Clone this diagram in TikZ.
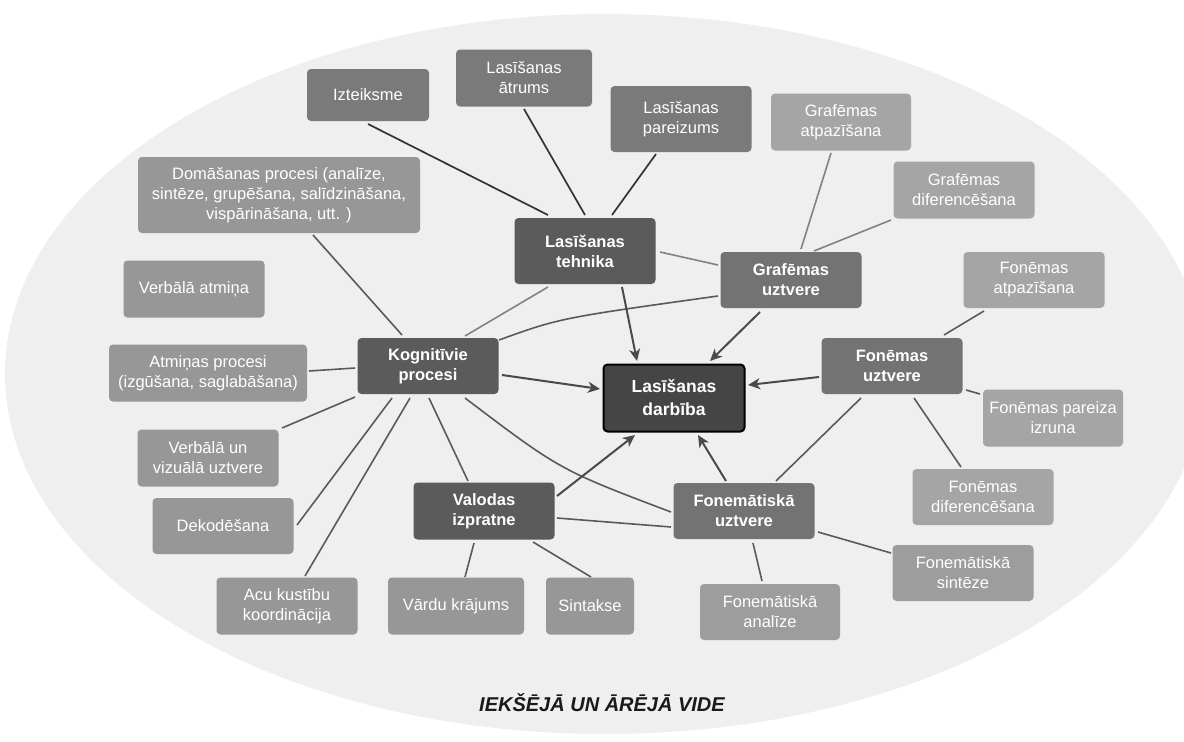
\documentclass[tikz,border=0pt]{standalone}
\usepackage{fontspec}
\setmainfont{Liberation Sans}
\usetikzlibrary{arrows.meta,calc}
\definecolor{bgell}{HTML}{EFEFEF}
\definecolor{cdar}{HTML}{454545}
\definecolor{cmain}{HTML}{5B5B5B}
\definecolor{csub}{HTML}{737373}
\definecolor{ctop}{HTML}{7A7A7A}
\definecolor{cleaf}{HTML}{979797}
\definecolor{clight}{HTML}{A5A5A5}
\definecolor{cfm}{HTML}{9D9D9D}
\definecolor{ldark}{HTML}{333333}
\definecolor{lmid}{HTML}{5A5A5A}
\definecolor{llight}{HTML}{828282}
\definecolor{larrow}{HTML}{4A4A4A}
\definecolor{ttl}{HTML}{1A1A1A}
\begin{document}
\begin{tikzpicture}[x=1pt,y=-1pt,
  nd/.style={rounded corners=4pt, inner sep=0pt, outer sep=1.5pt, align=center,
    text=white, font=\fontsize{16.5}{20}\selectfont,
    minimum width=141pt, minimum height=57pt},
  ndb/.style={nd, font=\fontsize{16.5}{20}\selectfont\bfseries},
  lkdark/.style={draw=ldark, line width=1.7pt},
  lkmid/.style={draw=lmid, line width=1.6pt},
  lklight/.style={draw=llight, line width=1.6pt},
  arr/.style={draw=larrow, line width=2pt, -{Stealth[length=12pt,width=11pt,inset=3.5pt]}}
]
\useasboundingbox (0,0) rectangle (1184,742);
\begin{scope}
  \clip (0,0) rectangle (1184,742);
  \fill[bgell] (605,374) ellipse [x radius=600, y radius=360];
\end{scope}

% top nodes
\node[nd, fill=ctop, minimum width=122pt, minimum height=52pt] (izt) at (368,95) {Izteiksme};
\node[nd, fill=ctop, minimum width=136pt] (atr) at (524,78) {Lasīšanas\\ātrums};
\node[nd, fill=ctop, minimum height=66pt] (par) at (681,119) {Lasīšanas\\pareizums};
\node[nd, fill=clight, minimum width=140pt] (gatp) at (841,122) {Grafēmas\\atpazīšana};
\node[nd, fill=clight] (gdif) at (964,190) {Grafēmas\\diferencēšana};
\node[nd, fill=clight, minimum height=56pt] (fatp) at (1034,280) {Fonēmas\\atpazīšana};
\node[ndb, fill=csub, minimum height=56pt] (guz) at (791,280) {Grafēmas\\uztvere};
\node[ndb, fill=cmain, minimum height=66pt] (teh) at (585,251) {Lasīšanas\\tehnika};

% left nodes
\node[nd, fill=cleaf, minimum width=282pt, minimum height=76pt] (dom) at (279,195) {Domāšanas procesi (analīze,\\sintēze, grupēšana, salīdzināšana,\\vispārināšana, utt. )};
\node[nd, fill=cleaf] (vat) at (194,289) {Verbālā atmiņa};
\node[ndb, fill=cmain, minimum height=56pt] (kog) at (428,366) {Kognitīvie\\procesi};
\node[nd, fill=cleaf, minimum width=198pt] (atm) at (208,373) {Atmiņas procesi\\(izgūšana, saglabāšana)};
\node[nd, fill=cleaf] (vvu) at (208,458) {Verbālā un\\vizuālā uztvere};
\node[nd, fill=cleaf, minimum height=56pt] (dek) at (223,526) {Dekodēšana};
\node[nd, fill=cleaf] (acu) at (287,606) {Acu kustību\\koordinācija};
\node[ndb, fill=cmain] (val) at (484,511) {Valodas\\izpratne};
\node[nd, fill=cleaf, minimum width=136pt] (vrd) at (456,606) {Vārdu krājums};
\node[nd, fill=cleaf, minimum width=88pt] (sin) at (590,606) {Sintakse};

% centre
\node[rounded corners=4pt, inner sep=0pt, outer sep=2pt, align=center, text=white,
  fill=cdar, draw=black, line width=2pt, minimum width=141pt, minimum height=67pt,
  font=\fontsize{17.5}{23}\selectfont\bfseries] (dar) at (674,398) {Lasīšanas\\darbība};

% right nodes
\node[ndb, fill=csub, minimum height=56pt] (fuz) at (892,366) {Fonēmas\\uztvere};
\node[nd, fill=clight, minimum width=140pt] (fiz) at (1053,418) {Fonēmas pareiza\\izruna};
\node[nd, fill=clight, minimum height=56pt] (fdif) at (983,497) {Fonēmas\\diferencēšana};
\node[ndb, fill=csub, minimum height=56pt] (fmu) at (744,511) {Fonemātiskā\\uztvere};
\node[nd, fill=cfm, minimum height=56pt] (fms) at (963,573) {Fonemātiskā\\sintēze};
\node[nd, fill=cfm, minimum width=140pt, minimum height=56pt] (fma) at (770,612) {Fonemātiskā\\analīze};

% title
\node[font=\fontsize{20}{24}\selectfont\bfseries\itshape, text=ttl] (ttl) at (602,703) {IEKŠĒJĀ UN ĀRĒJĀ VIDE};

% connectors: tehnika
\draw[lkdark] ($(izt.center)+(0,29)$) -- ($(teh.center)+(-37,-36)$);
\draw[lkdark] ($(atr.center)+(0,31)$) -- ($(teh.center)+(0,-36)$);
\draw[lkdark] ($(par.center)+(-25,35)$) -- ($(teh.center)+(27,-36)$);
\draw[lklight] ($(teh.center)+(75,1)$) -- ($(guz.center)+(-73,-15)$);
\draw[lklight] ($(teh.center)+(-37,36)$) -- ($(kog.center)+(37,-30)$);
\draw[lkmid] ($(kog.center)+(71,-26)$) .. controls (560,318) .. ($(guz.center)+(-73,16)$);
% grafemas
\draw[lklight] ($(gatp.center)+(-10,31)$) -- ($(guz.center)+(10,-31)$);
\draw[lklight] ($(gdif.center)+(-73,30)$) -- ($(guz.center)+(23,-29)$);
% fonemas
\draw[lkmid] ($(fatp.center)+(-50,31)$) -- ($(fuz.center)+(52,-31)$);
\draw[lkmid] ($(fuz.center)+(74,24)$) -- ($(fiz.center)+(-73,-24)$);
\draw[lkmid] ($(fuz.center)+(22,32)$) -- ($(fdif.center)+(-22,-30)$);
\draw[lkmid] ($(fuz.center)+(-31,32)$) -- ($(fmu.center)+(32,-30)$);
% fonematiska
\draw[lkmid] ($(fmu.center)+(74,21)$) -- ($(fms.center)+(-72,-20)$);
\draw[lkmid] ($(fmu.center)+(9,32)$) -- ($(fma.center)+(-8,-31)$);
\draw[lkmid] ($(kog.center)+(37,32)$) .. controls (560,470) .. ($(fmu.center)+(-73,1)$);
\draw[lkmid] ($(val.center)+(73,7)$) -- ($(fmu.center)+(-73,16)$);
% valodas
\draw[lkmid] ($(val.center)+(-10,32)$) -- ($(vrd.center)+(9,-29)$);
\draw[lkmid] ($(val.center)+(49,31)$) -- ($(sin.center)+(1,-29)$);
% kognitivie
\draw[lkmid] ($(kog.center)+(1,32)$) -- ($(val.center)+(-16,-30)$);
\draw[lkmid] ($(kog.center)+(-26,-31)$) -- ($(dom.center)+(34,40)$);
\draw[lkmid] ($(kog.center)+(-73,2)$) -- ($(atm.center)+(101,-2)$);
\draw[lkmid] ($(kog.center)+(-73,31)$) -- ($(vvu.center)+(74,-30)$);
\draw[lkmid] ($(kog.center)+(-36,32)$) -- ($(dek.center)+(74,-1)$);
\draw[lkmid] ($(kog.center)+(-18,32)$) -- ($(acu.center)+(18,-30)$);

% arrows into darbiba
\draw[arr] ($(teh.center)+(37,36)$) -- ($(dar.center)+(-37,-37)$);
\draw[arr] ($(guz.center)+(-31,32)$) -- ($(dar.center)+(36,-37)$);
\draw[arr] ($(fuz.center)+(-73,11)$) -- ($(dar.center)+(74,-13)$);
\draw[arr] ($(fmu.center)+(-18,-30)$) -- ($(dar.center)+(24,37)$);
\draw[arr] ($(val.center)+(73,-15)$) -- ($(dar.center)+(-39,37)$);
\draw[arr] ($(kog.center)+(74,9)$) -- ($(dar.center)+(-74,-9)$);
\end{tikzpicture}
\end{document}
